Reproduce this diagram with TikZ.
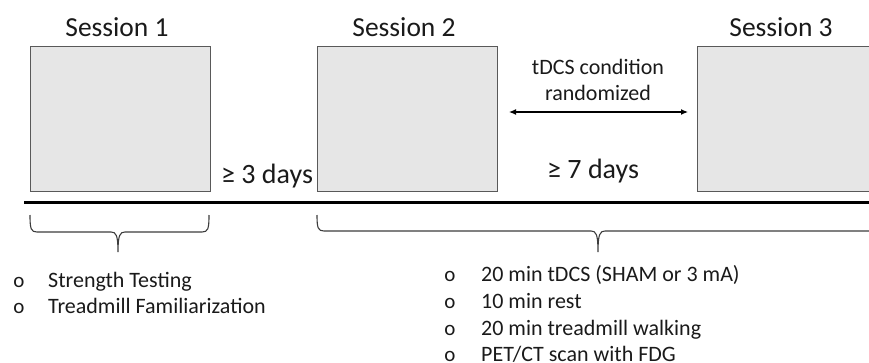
\documentclass[tikz,border=0pt]{standalone}
\usepackage{fontspec}
\setmainfont{Carlito}
\usetikzlibrary{arrows.meta}
\definecolor{boxfill}{HTML}{E6E6E6}
\definecolor{boxline}{HTML}{595959}
\definecolor{ink}{HTML}{1A1A1A}
\begin{document}
\begin{tikzpicture}[x=1pt,y=-1pt,
  sessbox/.style={draw=boxline, fill=boxfill, line width=1.4pt, minimum width=180pt, minimum height=145pt, inner sep=0pt, anchor=north west},
  title/.style={font=\fontsize{27.5}{30}\selectfont, text=ink, anchor=base, inner sep=0pt},
  gap/.style={font=\fontsize{28}{30}\selectfont, text=ink, anchor=base west, inner sep=0pt},
  note/.style={font=\fontsize{22}{26}\selectfont, text=ink, anchor=base, inner sep=0pt},
  item/.style={font=\fontsize{22}{26}\selectfont, text=ink, anchor=base west, inner sep=0pt},
  bul/.style={font=\fontsize{21}{26}\selectfont, text=ink, anchor=base, inner sep=0pt},
  brace/.style={draw=ink!85, line width=1.1pt},
  timeline/.style={draw=black, line width=3pt},
  randarrow/.style={draw=black, line width=1.2pt, {Latex[length=7pt,width=6pt]}-{Latex[length=7pt,width=6pt]}}]
\useasboundingbox (0,0) rectangle (869,362);
\clip (0,0) rectangle (869,362);

% session boxes
\node[sessbox] (s1) at (30,46) {};
\node[sessbox] (s2) at (317,46) {};
\node[sessbox] (s3) at (697,46) {};

% titles
\node[title] (t1) at (117,36) {Session 1};
\node[title] (t2) at (404,36) {Session 2};
\node[title] (t3) at (781,36) {Session 3};

% gaps
\node[gap] (g1) at (221,183) {≥ 3 days};
\node[gap] (g2) at (547,178) {≥ 7 days};

% randomization note and arrow
\node[note] (n1) at (598,74) {tDCS condition};
\node[note] (n2) at (598,100) {randomized};
\coordinate (al) at (509,112);
\coordinate (ar) at (688,112);
\draw[randarrow] (al) -- (ar);

% timeline
\coordinate (tl) at (24,202.5);
\coordinate (tr) at (875,202.5);
\draw[timeline] (tl) -- (tr);

% brace 1
\draw[brace] (30,215) .. controls (30,229) and (31,232) .. (37,232)
  -- (111,232) .. controls (116,232) and (118,235) .. (118,252)
  .. controls (118,235) and (120,232) .. (125,232)
  -- (202,232) .. controls (208,232) and (209,229) .. (209,215);
% brace 2
\draw[brace] (317,215) .. controls (317,228) and (318,231) .. (324,231)
  -- (591,231) .. controls (596,231) and (598,234) .. (598,252)
  .. controls (598,234) and (600,231) .. (605,231)
  -- (872,231) .. controls (878,231) and (879,228) .. (879,215);

% list 1
\node[bul] (b11) at (19,287) {o};
\node[item] (i11) at (48,287) {Strength Testing};
\node[bul] (b12) at (19,313) {o};
\node[item] (i12) at (48,313) {Treadmill Familiarization};

% list 2
\node[bul] (b21) at (450,281) {o};
\node[item] (i21) at (481,281) {20 min tDCS (SHAM or 3 mA)};
\node[bul] (b22) at (450,308) {o};
\node[item] (i22) at (481,308) {10 min rest};
\node[bul] (b23) at (450,335) {o};
\node[item] (i23) at (481,335) {20 min treadmill walking};
\node[bul] (b24) at (450,361) {o};
\node[item] (i24) at (481,361) {PET/CT scan with FDG};
\end{tikzpicture}
\end{document}
